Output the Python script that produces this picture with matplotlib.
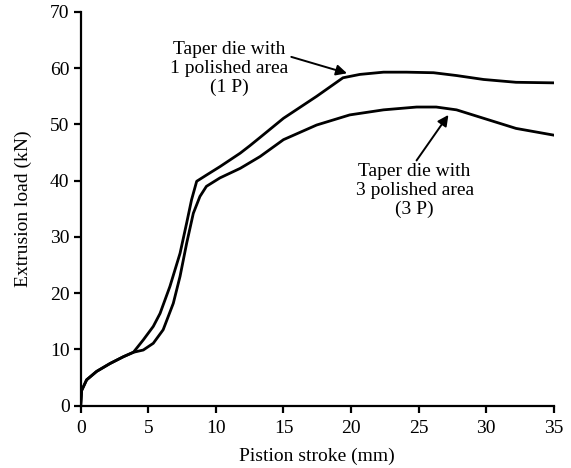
import matplotlib
matplotlib.use("Agg")
import matplotlib.pyplot as plt

plt.rcParams["font.family"] = ["Liberation Serif", "DejaVu Serif"]

# piston stroke (mm) / extrusion load (kN), taper die with 1 polished area
stroke_1p = [0, 0.07, 0.44, 1.18, 2.17, 3.15, 3.9, 4.63, 5.37, 5.87, 6.6, 7.35,
             7.84, 8.2, 8.58, 9.3, 10.3, 11.8, 12.5, 13.27, 15.0, 17.45, 19.4,
             20.65, 22.4, 24.1, 26.1, 27.8, 29.8, 32.2, 35.0]
load_1p = [0, 2.7, 4.6, 6.1, 7.5, 8.7, 9.5, 11.7, 14.1, 16.4, 21.2, 27.1,
           32.5, 36.6, 39.9, 41.0, 42.5, 44.9, 46.2, 47.7, 51.1, 55.0, 58.3,
           58.9, 59.3, 59.3, 59.2, 58.7, 58.0, 57.5, 57.4]

# taper die with 3 polished areas
stroke_3p = [0, 0.07, 0.44, 1.18, 2.17, 3.15, 3.9, 4.63, 5.37, 6.1, 6.85, 7.35,
             7.84, 8.33, 8.82, 9.3, 10.3, 11.8, 13.27, 15.0, 17.45, 19.9, 22.4,
             24.85, 26.3, 27.8, 29.8, 32.2, 35.0]
load_3p = [0, 2.7, 4.6, 6.1, 7.5, 8.7, 9.5, 9.9, 11.1, 13.5, 18.2, 23.0,
           28.9, 34.2, 37.2, 39.0, 40.5, 42.2, 44.3, 47.3, 49.9, 51.7, 52.6,
           53.1, 53.1, 52.6, 51.1, 49.3, 48.1]

fig = plt.figure(figsize=(5.71, 4.68), dpi=100)
ax = fig.add_axes([0.1413, 0.1331, 0.8287, 0.8413])

ax.plot(stroke_1p, load_1p, color="black", lw=2.0)
ax.plot(stroke_3p, load_3p, color="black", lw=2.0)

ax.set_xlim(0, 35)
ax.set_ylim(0, 70)
ax.set_xticks(range(0, 36, 5))
ax.set_yticks(range(0, 71, 10))
for side in ("top", "right"):
    ax.spines[side].set_visible(False)
for side in ("left", "bottom"):
    ax.spines[side].set_linewidth(1.6)
ax.tick_params(direction="out", length=5, width=1.6, labelsize=14)
ax.tick_params(axis="x", pad=5)
ax.tick_params(axis="y", pad=3)

ax.set_xlabel("Pistion stroke (mm)", fontsize=14, labelpad=8)
ax.set_ylabel("Extrusion load (kN)", fontsize=14, labelpad=13)

ax.annotate("Taper die with\n1 polished area\n(1 P)", xy=(19.7, 59.1), xytext=(11.0, 60.0),
            ha="center", va="center", fontsize=14, linespacing=1.15,
            arrowprops=dict(arrowstyle="-|>", color="black", lw=1.4,
                            mutation_scale=16, shrinkA=0, shrinkB=0,
                            relpos=(1.0, 0.72)))
ax.annotate("Taper die with\n3 polished area\n(3 P)", xy=(27.2, 51.7), xytext=(24.7, 38.2),
            ha="center", va="center", fontsize=14, linespacing=1.15,
            arrowprops=dict(arrowstyle="-|>", color="black", lw=1.4,
                            mutation_scale=16, shrinkA=0, shrinkB=0,
                            relpos=(0.5, 1.0)))

fig.savefig("out.png", dpi=100)
